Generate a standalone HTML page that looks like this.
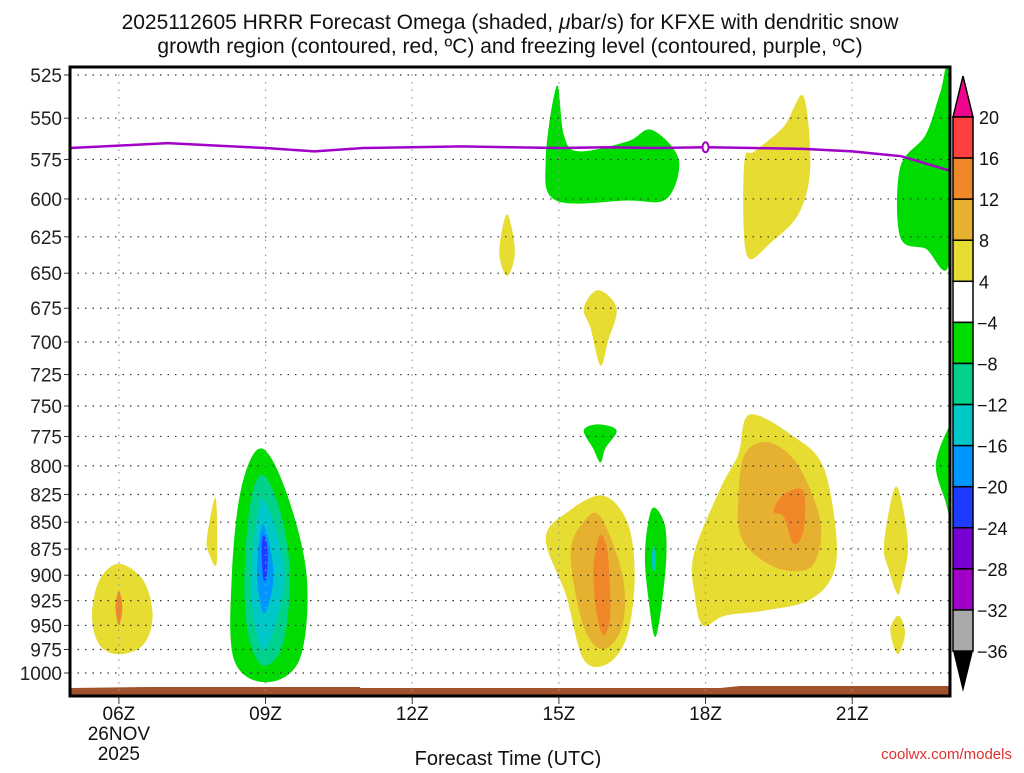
<!DOCTYPE html>
<html><head><meta charset="utf-8"><style>
body{margin:0;background:#fff;width:1024px;height:768px;overflow:hidden}
svg{font-family:"Liberation Sans",sans-serif}
</style></head><body>
<svg id="chart" width="1024" height="768" xmlns="http://www.w3.org/2000/svg">
<text x="510" y="29" font-size="21" text-anchor="middle" fill="#111">2025112605 HRRR Forecast Omega (shaded, <tspan font-style="italic">μ</tspan>bar/s) for KFXE with dendritic snow</text>
<text x="510" y="53" font-size="21" text-anchor="middle" fill="#111">growth region (contoured, red, ºC) and freezing level (contoured, purple, ºC)</text>
<g id="fills"></g>
<g id="grid"></g>
<g id="fz"></g>
<g id="axes"></g>
<g id="cbar"></g>
<text x="508" y="765" font-size="20" text-anchor="middle" fill="#111">Forecast Time (UTC)</text>
<text x="1012" y="759" font-size="15" text-anchor="end" fill="#e03030">coolwx.com/models</text>
</svg>
<script>
const pressureTicks=[525,550,575,600,625,650,675,700,725,750,775,800,825,850,875,900,925,950,975,1000];
const hourTicks=[6,9,12,15,18,21];
const hourLabels=["06Z","09Z","12Z","15Z","18Z","21Z"];
const fzHours=[5,6,7,8,9,10,11,12,13,14,15,16,17,18,19,20,21,22,23];
const fzPres=[568,566.5,565,566.5,568,570,568,567.5,567,567.5,568,567.5,568,567.5,568,568.5,570,573,582];
const levels=[20,16,12,8,4,-4,-8,-12,-16,-20,-24,-28,-32,-36];
const levelColors=["#ff4040","#f0882a","#e6b030","#e6dc32","#ffffff","#00dc00","#00d28c","#00c8c8","#0096ff","#1e3cff","#7800d2","#a000c8","#aaaaaa"];
const blobColor=["#e6dc32","#f0882a","#00dc00","#00d28c","#00c8c8","#0096ff","#1e3cff","#e6dc32","#e6dc32","#00dc00","#e6dc32","#00dc00","#e6dc32","#00dc00","#e6dc32","#e6b030","#f0882a","#00dc00","#00c8c8","#e6dc32","#e6b030","#f0882a","#e6dc32","#e6dc32","#00dc00"];
const blobs=[
[[5.45,940],[5.6,905],[6.0,889],[6.5,905],[6.69,940],[6.5,970],[6.0,980],[5.6,970]],
[[5.93,932],[6.0,915],[6.07,932],[6.0,950]],
[[8.31,900],[8.5,820],[8.9,785],[9.4,820],[9.84,900],[9.7,985],[9.0,1010],[8.35,985]],
[[8.57,900],[8.7,830],[8.95,808],[9.3,840],[9.5,900],[9.35,970],[8.95,992],[8.65,960]],
[[8.71,890],[8.85,840],[8.95,830],[9.2,855],[9.39,900],[9.2,950],[8.95,975],[8.75,940]],
[[8.84,880],[8.95,852],[9.12,880],[9.15,910],[8.97,938],[8.84,910]],
[[8.92,872],[8.97,862],[9.04,875],[9.02,902],[8.95,902]],
[[7.8,865],[7.98,828],[8.0,888],[7.85,880]],
[[13.78,635],[13.94,610],[14.1,635],[13.94,652]],
[[14.73,575],[14.96,531],[15.1,560],[15.4,570],[16.4,564],[16.9,557],[17.45,575],[17.2,600],[16.4,601],[14.94,601]],
[[18.78,620],[18.8,575],[19.0,570],[19.6,555],[20.0,537],[20.14,580],[19.9,610],[19.3,630],[18.9,640]],
[[21.98,580],[22.5,560],[22.8,535],[23.0,520],[23.0,640],[22.5,633],[21.98,625]],
[[15.51,675],[15.8,662],[16.18,675],[16.0,700],[15.85,718],[15.65,690]],
[[15.51,770],[15.8,765],[16.18,770],[15.95,785],[15.85,797],[15.7,785]],
[[14.73,865],[15.2,840],[15.9,826],[16.4,850],[16.55,900],[16.4,960],[16.0,990],[15.5,985],[15.15,920]],
[[15.24,880],[15.5,850],[15.85,845],[16.3,900],[16.3,950],[15.9,975],[15.5,950]],
[[15.71,890],[15.85,862],[16.0,880],[16.05,940],[15.9,960],[15.75,930]],
[[16.76,880],[16.9,838],[17.15,850],[17.2,880],[17.1,930],[16.97,962],[16.85,930]],
[[16.9,880],[16.95,872],[16.98,892],[16.92,895]],
[[17.76,880],[18.3,820],[18.67,790],[18.9,757],[19.8,775],[20.4,800],[20.67,860],[20.6,900],[20.1,925],[19.2,935],[18.4,940],[17.95,950],[17.78,920]],
[[18.67,830],[18.8,790],[19.3,780],[19.9,800],[20.35,850],[20.2,890],[19.6,895],[19.0,880],[18.7,860]],
[[19.39,840],[19.6,825],[20.0,822],[20.0,858],[19.8,870],[19.6,845]],
[[21.65,870],[21.9,818],[22.14,870],[22.0,910],[21.92,918],[21.75,895]],
[[21.78,955],[21.95,940],[22.08,958],[21.93,980]],
[[22.71,800],[22.92,772],[23.0,775],[23.0,840],[22.9,830]]
];
const L=70,R=950,T=67,B=696;
const xS=h=>L+(h-5)/18*(R-L);
const yS=p=>75+(Math.log(p)-Math.log(525))/(Math.log(1000)-Math.log(525))*598;
const NS="http://www.w3.org/2000/svg";
function mk(t,a,parent){const e=document.createElementNS(NS,t);for(const k in a)e.setAttribute(k,a[k]);parent.appendChild(e);return e;}
function smooth(pts){const n=pts.length;let d=`M${pts[0][0]},${pts[0][1]}`;
for(let i=0;i<n;i++){const p0=pts[(i-1+n)%n],p1=pts[i],p2=pts[(i+1)%n],p3=pts[(i+2)%n];
d+=`C${p1[0]+(p2[0]-p0[0])/6},${p1[1]+(p2[1]-p0[1])/6} ${p2[0]-(p3[0]-p1[0])/6},${p2[1]-(p3[1]-p1[1])/6} ${p2[0]},${p2[1]}`;}
return d+"Z";}
const fills=document.getElementById('fills');
const cp=mk('clipPath',{id:'pc'},document.getElementById('chart'));mk('rect',{x:L,y:T,width:R-L,height:B-T},cp);
fills.setAttribute('clip-path','url(#pc)');
blobs.forEach((b,i)=>{const pts=b.map(q=>[xS(q[0]),yS(q[1])]);
const e=mk('path',{d:smooth(pts),fill:blobColor[i]},fills);

});
const terr=mk('path',{d:`M${L},688 L150,687 L360,687 L360,688 L720,688 L740,686 L${R},686 L${R},${B} L${L},${B}Z`,fill:'#a0522d'},fills);


const grid=document.getElementById('grid'),axes=document.getElementById('axes');
pressureTicks.forEach(p=>{const y=yS(p);
const g=mk('line',{x1:L,x2:R,y1:y,y2:y,stroke:'#333','stroke-dasharray':'1.5 6','stroke-width':1.2},grid);


mk('line',{x1:L-6,x2:L,y1:y,y2:y,stroke:'#333'},axes);
const t=mk('text',{x:L-8,y:y+7,'font-size':19,'text-anchor':'end',fill:'#222'},axes);t.textContent=p;

});
hourTicks.forEach((h,i)=>{const x=xS(h);
const g=mk('line',{x1:x,x2:x,y1:T,y2:B,stroke:'#999','stroke-dasharray':'1.5 6','stroke-width':1.2},grid);


mk('line',{x1:x,x2:x,y1:B,y2:B+8,stroke:'#333'},axes);
const t=mk('text',{x:x,y:720,'font-size':19,'text-anchor':'middle',fill:'#111'},axes);t.textContent=hourLabels[i];

});
[["26NOV",740],["2025",760]].forEach(a=>{const t=mk('text',{x:xS(6),y:a[1],'font-size':19,'text-anchor':'middle',fill:'#111'},axes);t.textContent=a[0];

});
const fr=mk('rect',{x:L,y:T,width:R-L,height:B-T,fill:'none',stroke:'#000','stroke-width':3},axes);


const fz=document.getElementById('fz');
const fl=mk('path',{d:'M'+fzHours.map((h,i)=>xS(h)+','+yS(fzPres[i])).join('L'),fill:'none',stroke:'#a000c8','stroke-width':2.5},fz);


const fzl=mk('ellipse',{cx:xS(18),cy:yS(567.5),rx:3,ry:5,fill:'#fff',stroke:'#a000c8','stroke-width':2},fz);


const cb=document.getElementById('cbar');const cx0=953,cw=20,cbTop=117,bh=41.08;
const tu=mk('path',{d:`M${cx0},${cbTop} L${cx0+cw/2},76 L${cx0+cw},${cbTop}Z`,fill:'#f0068c',stroke:'#000','stroke-width':1.5},cb);


levelColors.forEach((c,i)=>{const r=mk('rect',{x:cx0,y:cbTop+i*bh,width:cw,height:bh,fill:c,stroke:'#000','stroke-width':1.5},cb);

});
const yb=cbTop+levelColors.length*bh;
const tdn=mk('path',{d:`M${cx0},${yb} L${cx0+cw/2},692 L${cx0+cw},${yb}Z`,fill:'#000'},cb);


levels.forEach((v,i)=>{const y=cbTop+i*bh;
const t=mk('text',{x:v<0?977:979,y:y+7,'font-size':18,fill:'#111'},cb);t.textContent=v<0?'−'+(-v):v;

});
</script>
</body></html>
